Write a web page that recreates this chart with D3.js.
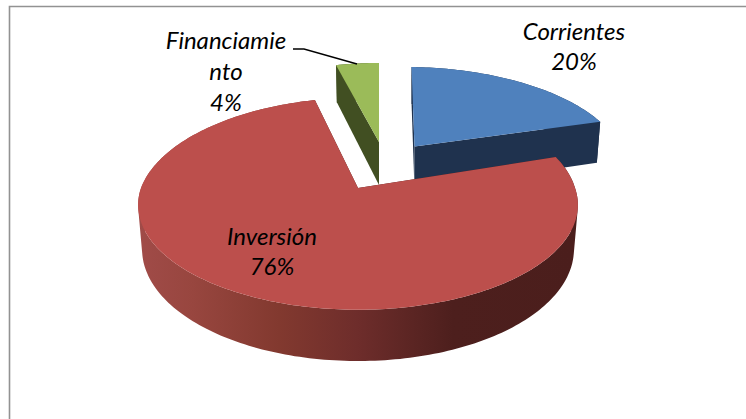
<!DOCTYPE html>
<html><head><meta charset="utf-8">
<script src="https://cdnjs.cloudflare.com/ajax/libs/d3/7.8.5/d3.min.js"></script>
<style>html,body{margin:0;padding:0;background:#fff}svg{display:block}</style></head>
<body><svg id="c" width="746" height="419"></svg>
<script>
const categories = ["Corrientes","Inversión","Financiamiento"];
const values = [20,76,4];
const labelLines = [["Corrientes","20%"],["Inversión","76%"],["Financiamie","nto","4%"]];
const topColors = ["#4f81bd","#bc4f4c","#9bbb59"];
const sideColors = ["#1f324e","#4b1e1c","#414f22"];

const svg=d3.select("#c");
svg.append("path").attr("d","M9.5,419V6.5H746").attr("fill","none").attr("stroke","#929292").attr("stroke-width",1.6);

const apex=[[414.5,146.5],[358,188],[379,142]];
const scaleX=[0.95,1,0.92];
const scaleY=[0.905,1,0.9];
const backY=[1,1.03,1];
const tilt=[0.0375,-0.04,0];
const tiltY=[0.0135,0,0];
const RX=217,RY=102,K=0.162,H0=43;
const pie=d3.pie().sort(null).startAngle(0).endAngle(2*Math.PI)(values);

function rimTop(i,a){
  const u=Math.sin(a),v=-Math.cos(a),w=1-K*v;
  const dy0=scaleY[i]*RY*v/w*(v<0?backY[i]:1);
  const dx=scaleX[i]*RX*u/w+tilt[i]*Math.min(dy0,0);
  const dy=dy0+tiltY[i]*dx;
  return {x:apex[i][0]+dx,y:apex[i][1]+dy,dx,w};
}
function rimBot(i,a){
  const p=rimTop(i,a);
  return {x:apex[i][0]+p.dx*0.982,y:p.y+H0/p.w};
}
const line=d3.line().x(d=>d.x).y(d=>d.y);

// every quad gets the same winding, so one nonzero-filled path has no seams
function orient(q){
  return d3.polygonArea(q.map(p=>[p.x,p.y]))<0 ? q.slice().reverse() : q;
}

const grad=svg.append("defs").append("linearGradient").attr("id","redSide").attr("gradientUnits","userSpaceOnUse")
  .attr("x1",140).attr("x2",575).attr("y1",0).attr("y2",0);
[[0,"#a04b48"],[0.12,"#98463f"],[0.32,"#82392f"],[0.5,"#6e2d2b"],[0.72,"#4d1f1d"],[1,"#4b1e1c"]]
  .forEach(s=>grad.append("stop").attr("offset",s[0]).attr("stop-color",s[1]));

function angles(d,step){
  const n=Math.max(2,Math.ceil((d.endAngle-d.startAngle)/step));
  return d3.range(n+1).map(j=>d.startAngle+(d.endAngle-d.startAngle)*j/n);
}
[2,0,1].forEach(i=>{
  const d=pie[i],g=svg.append("g");
  const as=angles(d,0.02);
  const quads=d3.pairs(as).map(([a,b])=>orient([rimTop(i,a),rimTop(i,b),rimBot(i,b),rimBot(i,a)]));
  g.append("path").attr("d",quads.map(q=>line(q)+"Z").join(""))
    .attr("fill",i===1?"url(#redSide)":sideColors[i]);
  const c0={x:apex[i][0],y:apex[i][1]},c1={x:apex[i][0],y:apex[i][1]+H0};
  [d.startAngle,d.endAngle].forEach(a=>{
    g.append("path").attr("d",line([c0,rimTop(i,a),rimBot(i,a),c1])+"Z").attr("fill",sideColors[i]);
  });
  g.append("path").attr("d",line([c0,...as.map(a=>rimTop(i,a))])+"Z").attr("fill",topColors[i]);
});

svg.append("path").attr("d",d3.line()([[293,49],[304,49],[357,64]])).attr("fill","none")
  .attr("stroke","#000").attr("stroke-width",1.3);

const labelPos=[[574,40],[272,245],[226,49]];
const lineGap=[30,30,31];
labelLines.forEach((ls,i)=>{
  const t=svg.append("text").attr("text-anchor","middle")
    .attr("font-family","Lato, 'Open Sans', sans-serif").attr("font-style","italic")
    .attr("font-size",24).attr("fill","#000");
  ls.forEach((s,j)=>t.append("tspan").attr("x",labelPos[i][0]).attr("y",labelPos[i][1]+j*lineGap[i]).text(s));
});
</script></body></html>
